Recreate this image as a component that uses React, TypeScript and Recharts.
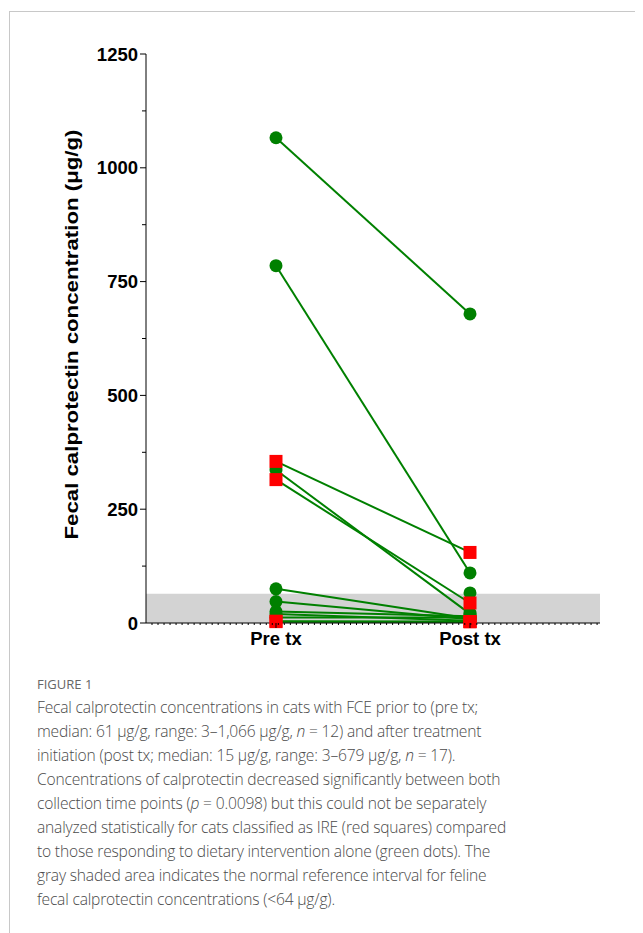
import React from "react";
import {
  ComposedChart,
  Line,
  Scatter,
  XAxis,
  YAxis,
  ReferenceArea,
} from "recharts";

// x positions for the two collection time points
const timePoints = [1, 2];
const timeLabels = ["Pre tx", "Post tx"];

// paired cats: [pre, post]
const greenPre = [1066, 785, 336, 75, 47, 25, 20, 12];
const greenPost = [679, 110, 20, 10, 8, 15, 5, 12];
const redPre = [355, 315, 3, 4];
const redPost = [155, 44, 3, 3];

// post-only measurements
const greenPostOnly = [66, 22];
const redPostOnly = [3];

const yTicks = [0, 125, 250, 375, 500, 625, 750, 875, 1000, 1125, 1250];
const yLabelTicks = [0, 250, 500, 750, 1000, 1250];
const normalUpper = 64;
const yTitle = "Fecal calprotectin concentration (μg/g)";

const GREEN = "#008000";
const RED = "#ff0000";

const xMin = 0.33;
const xMax = 2.67;
const xMinor: number[] = [];
for (let v = xMin + 0.031; v < xMax; v += 0.031) xMinor.push(+v.toFixed(3));
const xTicks = [...xMinor, ...timePoints].sort((a, b) => a - b);

const pairData = (pre: number, post: number) => [
  { x: timePoints[0], y: pre },
  { x: timePoints[1], y: post },
];

function Marker({ cx, cy, color }: any) {
  if (cx == null || cy == null) return null;
  if (color === RED) {
    return <rect x={cx - 6.5} y={cy - 6.5} width={13} height={13} fill={RED} />;
  }
  return <circle cx={cx} cy={cy} r={6.5} fill={GREEN} />;
}

const makeDot = (color: string) => (props: any) => (
  <Marker key={props.key ?? props.index} cx={props.cx} cy={props.cy} color={color} />
);

function YTick({ x, y, payload }: any) {
  const major = yLabelTicks.includes(payload.value);
  return (
    <g>
      <line x1={x - (major ? 6 : 4)} x2={x} y1={y} y2={y} stroke="#000" strokeWidth={1} />
      {major && (
        <text
          x={x - 8}
          y={y}
          dy="0.36em"
          textAnchor="end"
          fontFamily="Liberation Sans, Arial, sans-serif"
          fontWeight="bold"
          fontSize={18.5}
          fill="#000"
        >
          {payload.value}
        </text>
      )}
    </g>
  );
}

function XTick({ x, y, payload }: any) {
  const idx = timePoints.indexOf(payload.value);
  if (idx < 0) {
    return <line x1={x} x2={x} y1={y} y2={y + 2} stroke="#000" strokeWidth={1} />;
  }
  return (
    <g>
      <line x1={x} x2={x} y1={y} y2={y + 5} stroke="#000" strokeWidth={1} />
      <text
        x={x}
        y={y + 22}
        textAnchor="middle"
        fontFamily="Liberation Sans, Arial, sans-serif"
        fontWeight="bold"
        fontSize={18.5}
        fill="#000"
      >
        {timeLabels[idx]}
      </text>
    </g>
  );
}

// rotated axis title, stretched along its length like the original
function YTitle({ viewBox }: any) {
  const cy = viewBox.y + viewBox.height / 2 - 4;
  const cx = 61;
  return (
    <text
      x={0}
      y={0}
      transform={`translate(${cx},${cy}) rotate(-90)`}
      textAnchor="middle"
      dy="0.36em"
      textLength={410}
      lengthAdjust="spacingAndGlyphs"
      fontFamily="Liberation Sans, Arial, sans-serif"
      fontWeight="bold"
      fontSize={19}
      fill="#000"
    >
      {yTitle}
    </text>
  );
}

const captionFont = "'Open Sans', 'Noto Sans', sans-serif";

export default function App() {
  return (
    <div
      style={{
        position: "relative",
        marginTop: 3,
        marginLeft: 1,
        width: 640,
        height: 922,
        borderLeft: "1px solid #c8c8c8",
        borderTop: "1px solid #c8c8c8",
        background: "#fff",
      }}
    >
      <div style={{ position: "absolute", left: 0, top: 0 }}>
        <ComposedChart
          width={620}
          height={660}
          margin={{ top: 42, right: 30, bottom: 19, left: 0 }}
        >
          <ReferenceArea
            x1={xMin}
            x2={xMax}
            y1={0}
            y2={normalUpper}
            fill="#d3d3d3"
            fillOpacity={1}
            stroke="none"
            ifOverflow="visible"
          />
          <XAxis
            type="number"
            dataKey="x"
            domain={[xMin, xMax]}
            allowDataOverflow
            ticks={xTicks}
            interval={0}
            tickLine={false}
            tickSize={0}
            tickMargin={0}
            tick={<XTick />}
            axisLine={{ stroke: "#000", strokeWidth: 1 }}
            height={30}
          />
          <YAxis
            type="number"
            dataKey="y"
            domain={[0, 1250]}
            ticks={yTicks}
            interval={0}
            tickLine={false}
            tickSize={0}
            tickMargin={0}
            tick={<YTick />}
            axisLine={{ stroke: "#000", strokeWidth: 1 }}
            width={136}
            label={<YTitle />}
          />
          {greenPre.map((pre, i) => (
            <Line
              key={`g${i}`}
              data={pairData(pre, greenPost[i])}
              dataKey="y"
              stroke={GREEN}
              strokeWidth={2}
              dot={makeDot(GREEN)}
              activeDot={false}
              isAnimationActive={false}
            />
          ))}
          <Scatter
            data={greenPostOnly.map((y) => ({ x: timePoints[1], y }))}
            dataKey="y"
            shape={(p: any) => <Marker cx={p.cx} cy={p.cy} color={GREEN} />}
            isAnimationActive={false}
          />
          {redPre.map((pre, i) => (
            <Line
              key={`r${i}`}
              data={pairData(pre, redPost[i])}
              dataKey="y"
              stroke={GREEN}
              strokeWidth={2}
              dot={makeDot(RED)}
              activeDot={false}
              isAnimationActive={false}
            />
          ))}
          <Scatter
            data={redPostOnly.map((y) => ({ x: timePoints[1], y }))}
            dataKey="y"
            shape={(p: any) => <Marker cx={p.cx} cy={p.cy} color={RED} />}
            isAnimationActive={false}
          />
        </ComposedChart>
      </div>
      <div
        style={{
          position: "absolute",
          left: 27,
          top: 663,
          fontFamily: captionFont,
          fontSize: 13,
          color: "#666",
          letterSpacing: 0,
        }}
      >
        FIGURE 1
      </div>
      <div
        style={{
          position: "absolute",
          left: 27,
          top: 683,
          width: 610,
          fontFamily: captionFont,
          fontSize: 15.6,
          fontWeight: 300,
          lineHeight: "24px",
          color: "#4a4a4a",
          letterSpacing: -0.18,
          whiteSpace: "nowrap",
        }}
      >
        Fecal calprotectin concentrations in cats with FCE prior to (pre tx;
        <br />
        median: 61 μg/g, range: 3–1,066 μg/g, <i>n</i> = 12) and after treatment
        <br />
        initiation (post tx; median: 15 μg/g, range: 3–679 μg/g, <i>n</i> = 17).
        <br />
        Concentrations of calprotectin decreased significantly between both
        <br />
        collection time points (<i>p</i> = 0.0098) but this could not be separately
        <br />
        analyzed statistically for cats classified as IRE (red squares) compared
        <br />
        to those responding to dietary intervention alone (green dots). The
        <br />
        gray shaded area indicates the normal reference interval for feline
        <br />
        fecal calprotectin concentrations (&lt;64 μg/g).
      </div>
    </div>
  );
}
